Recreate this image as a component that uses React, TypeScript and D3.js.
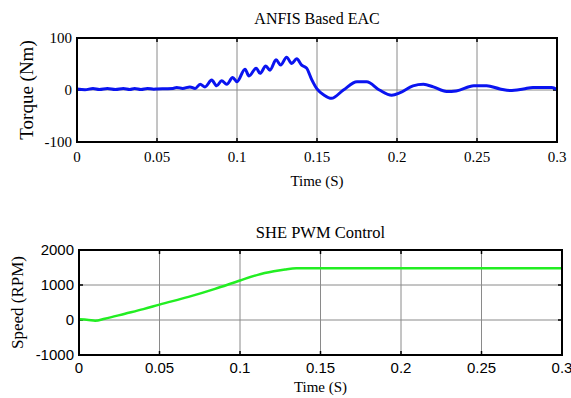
import * as d3 from 'd3';

// Torque (Nm) vs time (s) — ANFIS Based EAC
const torqueTime = [
  0, 0.005, 0.01, 0.014, 0.019, 0.024, 0.029, 0.033, 0.036, 0.04,
  0.044, 0.048, 0.05, 0.055, 0.06, 0.0623, 0.066, 0.0706, 0.0738, 0.077,
  0.08, 0.0842, 0.0873, 0.0904, 0.0936, 0.0973, 0.1, 0.105, 0.1075, 0.112,
  0.1144, 0.118, 0.1206, 0.1244, 0.1273, 0.131, 0.1342, 0.1373, 0.1404, 0.1435,
  0.1467, 0.15, 0.1545, 0.159, 0.1665, 0.175, 0.181, 0.189, 0.1967, 0.202,
  0.21, 0.2165, 0.2227, 0.231, 0.237, 0.248, 0.256, 0.2644, 0.2706, 0.279,
  0.285, 0.2967, 0.3,
];
const torqueValues = [
  2, 0.5, 3, 1, 3, 1, 3, 1, 3, 1,
  3, 1.5, 2, 2.5, 3, 5, 3, 6, 3, 11,
  6, 19, 8, 18, 11, 24, 16, 40, 27, 42,
  32, 46, 38, 58, 48, 63, 51, 60, 48, 42,
  20, 2, -10, -16, 0, 16, 16, 0, -10, -5,
  8, 11, 6, -3, -2, 8, 8, 2, -1, 2,
  5, 5, 1,
];

// Speed (RPM) vs time (s) — SHE PWM Control
const speedTime = [0, 0.006, 0.01, 0.016, 0.0286, 0.04, 0.05, 0.068, 0.0845, 0.1, 0.111, 0.121, 0.128, 0.135, 0.2, 0.3];
const speedValues = [20, 0, -20, 37, 180, 310, 440, 660, 890, 1130, 1290, 1390, 1445, 1478, 1478, 1478];

const timeTicks = [0, 0.05, 0.1, 0.15, 0.2, 0.25, 0.3];
const torqueTicks = [-100, 0, 100];
const speedTicks = [-1000, 0, 1000, 2000];

interface PanelProps {
  title: string;
  yLabel: string;
  times: number[];
  values: number[];
  yTicks: number[];
  color: string;
  lineWidth: number;
  left: number;
  right: number;
  top: number;
  bottom: number;
  tickFont: string;
  tickSize: number;
  titleY: number;
  titleSize: number;
  xLabelY: number;
  xTickY: number;
  yLabelX: number;
  yLabelSize: number;
}

function Panel(p: PanelProps) {
  const x = d3.scaleLinear().domain([0, 0.3]).range([p.left, p.right]);
  const y = d3.scaleLinear().domain([p.yTicks[0], p.yTicks[p.yTicks.length - 1]]).range([p.bottom, p.top]);
  const pts = p.times.map((t, i) => [t, p.values[i]] as [number, number]);
  const line = d3.line<[number, number]>()
    .x((d) => x(d[0]))
    .y((d) => y(d[1]))
    .curve(d3.curveMonotoneX);
  const serif = '"Liberation Serif", "Times New Roman", serif';
  const cx = (p.left + p.right) / 2;
  const cy = (p.top + p.bottom) / 2;

  return (
    <g>
      <rect x={p.left} y={p.top} width={p.right - p.left} height={p.bottom - p.top} fill="#fff" />
      {/* grid */}
      {timeTicks.slice(1, -1).map((t) => (
        <line key={'gx' + t} x1={x(t)} x2={x(t)} y1={p.top} y2={p.bottom} stroke="#8a8a8a" strokeWidth={1} />
      ))}
      {p.yTicks.slice(1, -1).map((v) => (
        <line key={'gy' + v} x1={p.left} x2={p.right} y1={y(v)} y2={y(v)} stroke="#8a8a8a" strokeWidth={1} />
      ))}
      {/* inner tick marks */}
      {timeTicks.map((t) => (
        <line key={'tt' + t} x1={x(t)} x2={x(t)} y1={p.top} y2={p.top + 4} stroke="#000" strokeWidth={1.5} />
      ))}
      {timeTicks.map((t) => (
        <line key={'tb' + t} x1={x(t)} x2={x(t)} y1={p.bottom} y2={p.bottom - 4} stroke="#000" strokeWidth={1.5} />
      ))}
      {p.yTicks.map((v) => (
        <line key={'tr' + v} x1={p.right} x2={p.right - 4} y1={y(v)} y2={y(v)} stroke="#000" strokeWidth={1.5} />
      ))}
      {p.yTicks.map((v) => (
        <line key={'tl' + v} x1={p.left} x2={p.left + 4} y1={y(v)} y2={y(v)} stroke="#000" strokeWidth={1.5} />
      ))}
      <path d={line(pts) as string} fill="none" stroke={p.color} strokeWidth={p.lineWidth} strokeLinejoin="round" />
      <rect x={p.left} y={p.top} width={p.right - p.left} height={p.bottom - p.top} fill="none" stroke="#000" strokeWidth={2} />
      {/* tick labels */}
      {timeTicks.map((t) => (
        <text key={'lx' + t} x={x(t)} y={p.xTickY} textAnchor="middle" fontFamily={p.tickFont} fontSize={p.tickSize} fill="#000">
          {String(t)}
        </text>
      ))}
      {p.yTicks.map((v) => (
        <text key={'ly' + v} x={p.left - 5} y={y(v)} dy="0.35em" textAnchor="end" fontFamily={p.tickFont} fontSize={p.tickSize} fill="#000">
          {String(v)}
        </text>
      ))}
      <text x={cx} y={p.titleY} textAnchor="middle" fontFamily={serif} fontSize={p.titleSize} fill="#000">{p.title}</text>
      <text x={cx} y={p.xLabelY} textAnchor="middle" fontFamily={serif} fontSize={15} fill="#000">Time (S)</text>
      <text
        transform={`translate(${p.yLabelX},${cy}) rotate(-90)`}
        textAnchor="middle"
        fontFamily={serif}
        fontSize={p.yLabelSize}
        fill="#000"
      >
        {p.yLabel}
      </text>
    </g>
  );
}

export default function App() {
  return (
    <svg width={571} height={398} style={{ position: 'absolute', left: 0, top: 0, background: '#fff' }}>
      <rect width={571} height={398} fill="#fff" />
      <Panel
        title="ANFIS Based EAC"
        yLabel="Torque (Nm)"
        times={torqueTime}
        values={torqueValues}
        yTicks={torqueTicks}
        color="#0a14f0"
        lineWidth={3}
        left={77}
        right={557}
        top={38}
        bottom={142}
        tickFont={'"Liberation Serif", "Times New Roman", serif'}
        tickSize={15}
        titleY={24}
        titleSize={16}
        xLabelY={186}
        xTickY={162}
        yLabelX={33}
        yLabelSize={19}
      />
      <Panel
        title="SHE PWM Control"
        yLabel="Speed (RPM)"
        times={speedTime}
        values={speedValues}
        yTicks={speedTicks}
        color="#22ee22"
        lineWidth={2.5}
        left={79}
        right={562}
        top={250}
        bottom={355}
        tickFont={'"Liberation Sans", Arial, sans-serif'}
        tickSize={15}
        titleY={238}
        titleSize={16.5}
        xLabelY={392}
        xTickY={373}
        yLabelX={23}
        yLabelSize={17}
      />
    </svg>
  );
}
